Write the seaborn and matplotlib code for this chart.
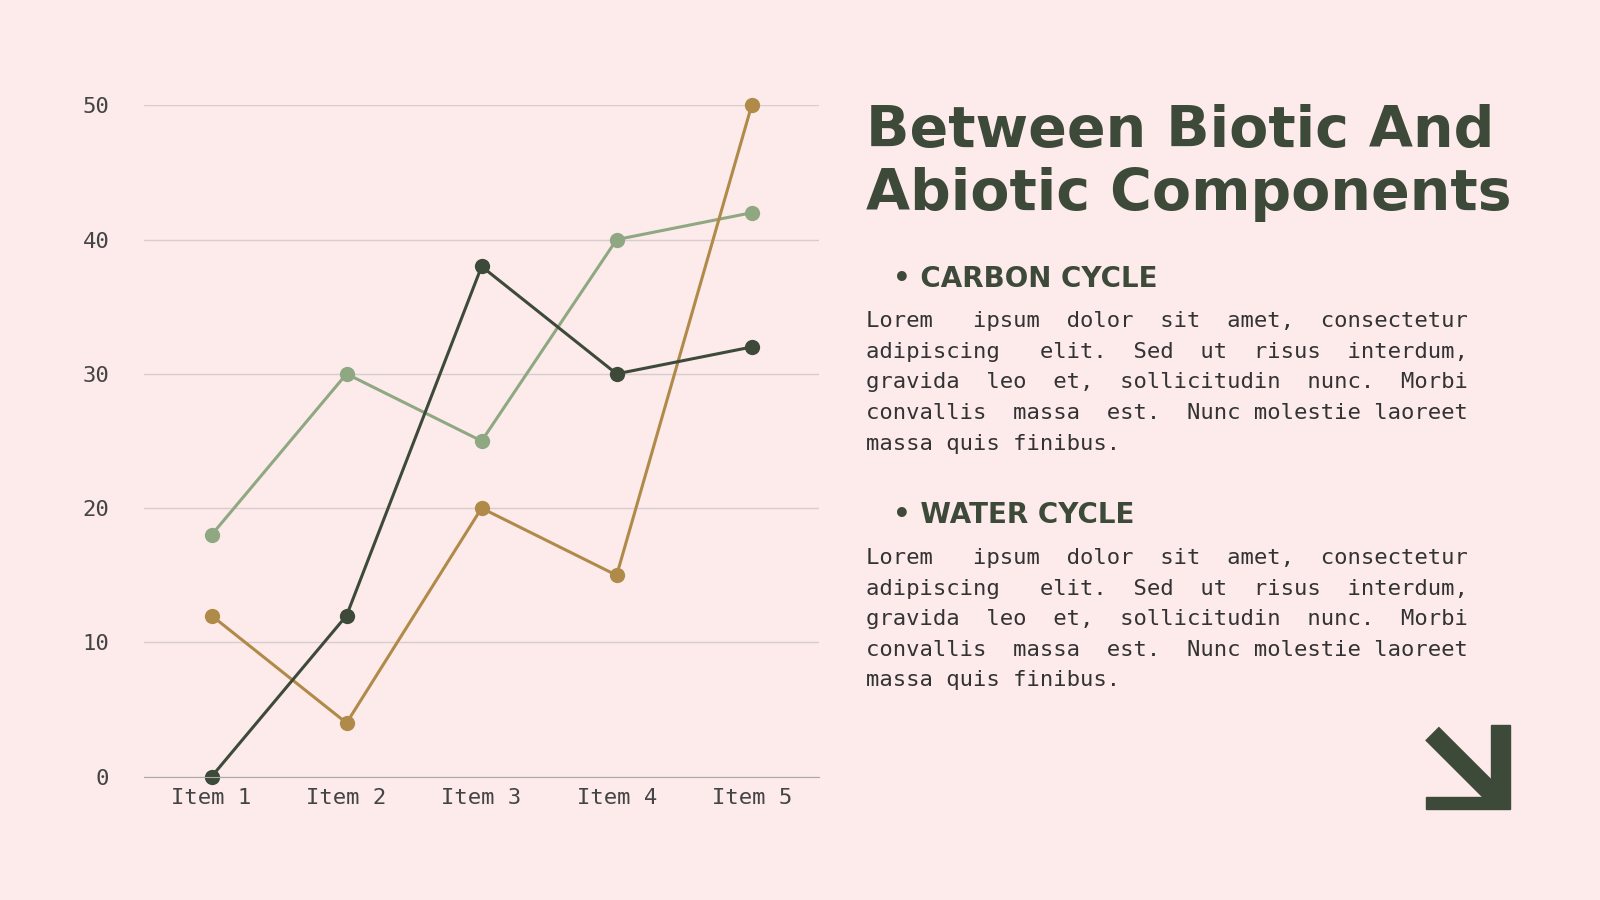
import numpy as np
import pandas as pd
import matplotlib.pyplot as plt
import seaborn as sns

# chart values
items = ["Item 1", "Item 2", "Item 3", "Item 4", "Item 5"]
series_dark = [0, 12, 38, 30, 32]
series_green = [18, 30, 25, 40, 42]
series_gold = [12, 4, 20, 15, 50]
y_ticks = [0, 10, 20, 30, 40, 50]

bg = "#fdeaea"
dark = "#3d4a3a"
green = "#8fa882"
gold = "#b08a48"

df = pd.DataFrame({
    "item": items * 3,
    "value": series_dark + series_green + series_gold,
    "series": ["dark"] * 5 + ["green"] * 5 + ["gold"] * 5,
})

sns.set_style("white")
plt.rcParams['font.family'] = ['DejaVu Sans Mono']

fig = plt.figure(figsize=(16, 9), dpi=100, facecolor=bg)
ax = fig.add_axes([0.09, 0.137, 0.422, 0.746], facecolor=bg)

sns.lineplot(
    data=df, x="item", y="value", hue="series",
    palette={"dark": dark, "green": green, "gold": gold},
    hue_order=["green", "gold", "dark"],
    marker="o", markersize=11, markeredgewidth=0,
    linewidth=2.2, legend=False, ax=ax, clip_on=False, sort=False,
)
ax.set_ylim(0, 50)
ax.set_xlim(-0.5, 4.5)
ax.set_yticks(y_ticks)
ax.yaxis.grid(True, color="#d9cccc", linewidth=1)
ax.set_axisbelow(True)
for s in ["top", "right", "left"]:
    ax.spines[s].set_visible(False)
ax.spines["bottom"].set_color("#aaaaaa")
ax.tick_params(axis="both", length=0, labelsize=16, labelcolor="#444444", pad=8)
ax.tick_params(axis="y", pad=25)
ax.set_xlabel("")
ax.set_ylabel("")

# right-hand text
heavy = dict(family="DejaVu Sans", weight="heavy", color=dark)
fig.text(0.541, 0.885, "Between Biotic And\nAbiotic Components", fontsize=41,
         va="top", linespacing=1.2, **heavy)

lines = ["Lorem ipsum dolor sit amet, consectetur",
         "adipiscing elit. Sed ut risus interdum,",
         "gravida leo et, sollicitudin nunc. Morbi",
         "convallis massa est. Nunc molestie laoreet",
         "massa quis finibus."]

def justify(line, width=42):
    words = line.split()
    gaps = len(words) - 1
    extra = width - sum(len(w) for w in words)
    out = words[0]
    for i, w in enumerate(words[1:]):
        n = extra // gaps + (1 if i < extra % gaps else 0)
        out += " " * n + w
    return out

def block(y_head, y_body, head):
    fig.text(0.558, y_head, "• " + head, fontsize=20, va="center", **heavy)
    for i, ln in enumerate(lines):
        txt = justify(ln, 45) if i < len(lines) - 1 else ln
        fig.text(0.541, y_body - i * 0.034, txt, fontsize=16, color="#333333",
                 va="center")

block(0.69, 0.643, "CARBON CYCLE")
block(0.428, 0.38, "WATER CYCLE")

# arrow icon
fig.add_artist(plt.Line2D([0.895, 0.935], [0.185, 0.114], color=dark,
                          linewidth=14, solid_capstyle="butt"))
fig.add_artist(plt.Polygon([[0.891, 0.101], [0.944, 0.101], [0.944, 0.195],
                            [0.932, 0.195], [0.932, 0.114], [0.891, 0.114]],
                           closed=True, color=dark, transform=fig.transFigure))

fig.savefig("out.png", dpi=100, facecolor=bg)
